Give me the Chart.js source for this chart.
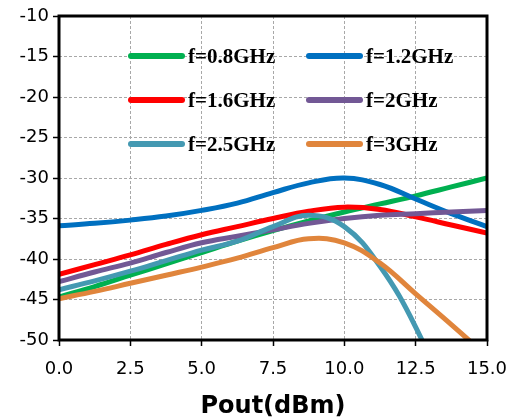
<!DOCTYPE html>
<html>
<head>
<meta charset="utf-8">
<script src="https://cdn.jsdelivr.net/npm/chart.js@4"></script>
<style>
  html, body { margin: 0; padding: 0; background: #fff; }
  #wrap { width: 510px; height: 418px; }
</style>
</head>
<body>
<div id="wrap"><canvas id="chart" width="510" height="418"></canvas></div>
<script>
// Pout (dBm) sample points
const pout = [0, 1.25, 2.5, 3.75, 5, 6.25, 7.5, 8.75, 10, 11.25, 12.5, 13.75, 15];

const seriesNames = ['f=0.8GHz', 'f=1.2GHz', 'f=1.6GHz', 'f=2GHz', 'f=2.5GHz', 'f=3GHz'];
const f08 = [-44.7, -43.4, -42.0, -40.6, -39.2, -37.8, -36.5, -35.3, -34.2, -33.2, -32.2, -31.1, -30.0];
const f12 = [-35.9, -35.6, -35.2, -34.7, -34.0, -33.1, -31.8, -30.6, -30.0, -30.8, -32.6, -34.4, -36.0];
const f16 = [-41.9, -40.7, -39.5, -38.2, -37.0, -36.0, -35.0, -34.1, -33.6, -33.9, -34.8, -35.8, -36.8];
const f20 = [-42.8, -41.6, -40.5, -39.2, -38.0, -37.2, -36.4, -35.6, -35.0, -34.6, -34.4, -34.2, -34.0];
const f25 = [-43.8, -42.7, -41.5, -40.2, -38.9, -37.8, -36.0, -34.6, -36.0, -40.9, -48.4, -58.5, -71.0];
const f30 = [-44.9, -44.0, -43.0, -42.0, -41.0, -39.9, -38.6, -37.5, -38.0, -40.5, -44.3, -48.1, -52.0];
const seriesColors = ['#00b050', '#0070c0', '#ff0000', '#725895', '#4499b2', '#e0853c'];

const yMin = -50, yMax = -10, yStep = 5;
const xMin = 0, xMax = 15, xStep = 2.5;

const allSeries = [f08, f12, f16, f20, f25, f30];

// legend inside the plot, two columns x three rows
const innerLegend = {
  id: 'innerLegend',
  afterDatasetsDraw(chart) {
    const ctx = chart.ctx;
    const a = chart.chartArea;
    ctx.save();
    // frame round the plot
    ctx.strokeStyle = '#000';
    ctx.lineWidth = 3;
    ctx.strokeRect(a.left, a.top, a.right - a.left, a.bottom - a.top);

    ctx.font = 'bold 21px "Liberation Serif"';
    ctx.textBaseline = 'middle';
    ctx.textAlign = 'left';
    seriesNames.forEach((name, i) => {
      const col = i % 2, row = Math.floor(i / 2);
      const x0 = a.left + (col === 0 ? 72 : 250);
      const y0 = a.top + 40 + row * 44;
      ctx.strokeStyle = seriesColors[i];
      ctx.lineWidth = 6;
      ctx.lineCap = 'round';
      ctx.beginPath();
      ctx.moveTo(x0, y0);
      ctx.lineTo(x0 + 51, y0);
      ctx.stroke();
      ctx.fillStyle = '#000';
      ctx.fillText(name, x0 + 57, y0 + 2);
    });
    ctx.restore();
  }
};

new Chart(document.getElementById('chart'), {
  type: 'line',
  data: {
    labels: pout,
    datasets: allSeries.map((vals, i) => ({
      label: seriesNames[i],
      data: vals.map((v, j) => ({ x: pout[j], y: v })),
      borderColor: seriesColors[i],
      backgroundColor: seriesColors[i],
      borderWidth: 5,
      pointRadius: 0,
      tension: 0.4,
      fill: false,
      clip: 0,
      order: allSeries.length - i
    }))
  },
  options: {
    responsive: false,
    animation: false,
    layout: { padding: { top: 16, right: 23, left: 0, bottom: 0 } },
    plugins: {
      legend: { display: false },
      tooltip: { enabled: false }
    },
    scales: {
      x: {
        type: 'linear',
        min: xMin,
        max: xMax,
        afterFit(scale) {
          scale.height = 78;
          scale.paddingLeft = 0;
          scale.paddingRight = 0;
        },
        ticks: {
          stepSize: xStep,
          color: '#000',
          padding: 13,
          font: { family: '"DejaVu Sans"', size: 18 },
          callback: (v) => v.toFixed(1)
        },
        grid: { color: '#a8a8a8', lineWidth: 1, tickColor: '#000', tickLength: 6, tickWidth: 1.5 },
        border: { display: false, dash: [3, 2] },
        title: {
          display: true,
          text: 'Pout(dBm)',
          color: '#000',
          font: { family: '"DejaVu Sans"', size: 24, weight: 'bold' },
          padding: { top: 0, bottom: -3 }
        }
      },
      y: {
        min: yMin,
        max: yMax,
        afterFit(scale) {
          scale.width = 59;
          scale.paddingTop = 0;
          scale.paddingBottom = 0;
        },
        ticks: {
          stepSize: yStep,
          color: '#000',
          padding: 4,
          font: { family: '"DejaVu Sans"', size: 18 }
        },
        grid: { color: '#a8a8a8', lineWidth: 1, tickColor: '#000', tickLength: 6, tickWidth: 1.5 },
        border: { display: false, dash: [3, 2] }
      }
    }
  },
  plugins: [innerLegend]
});
</script>
</body>
</html>
